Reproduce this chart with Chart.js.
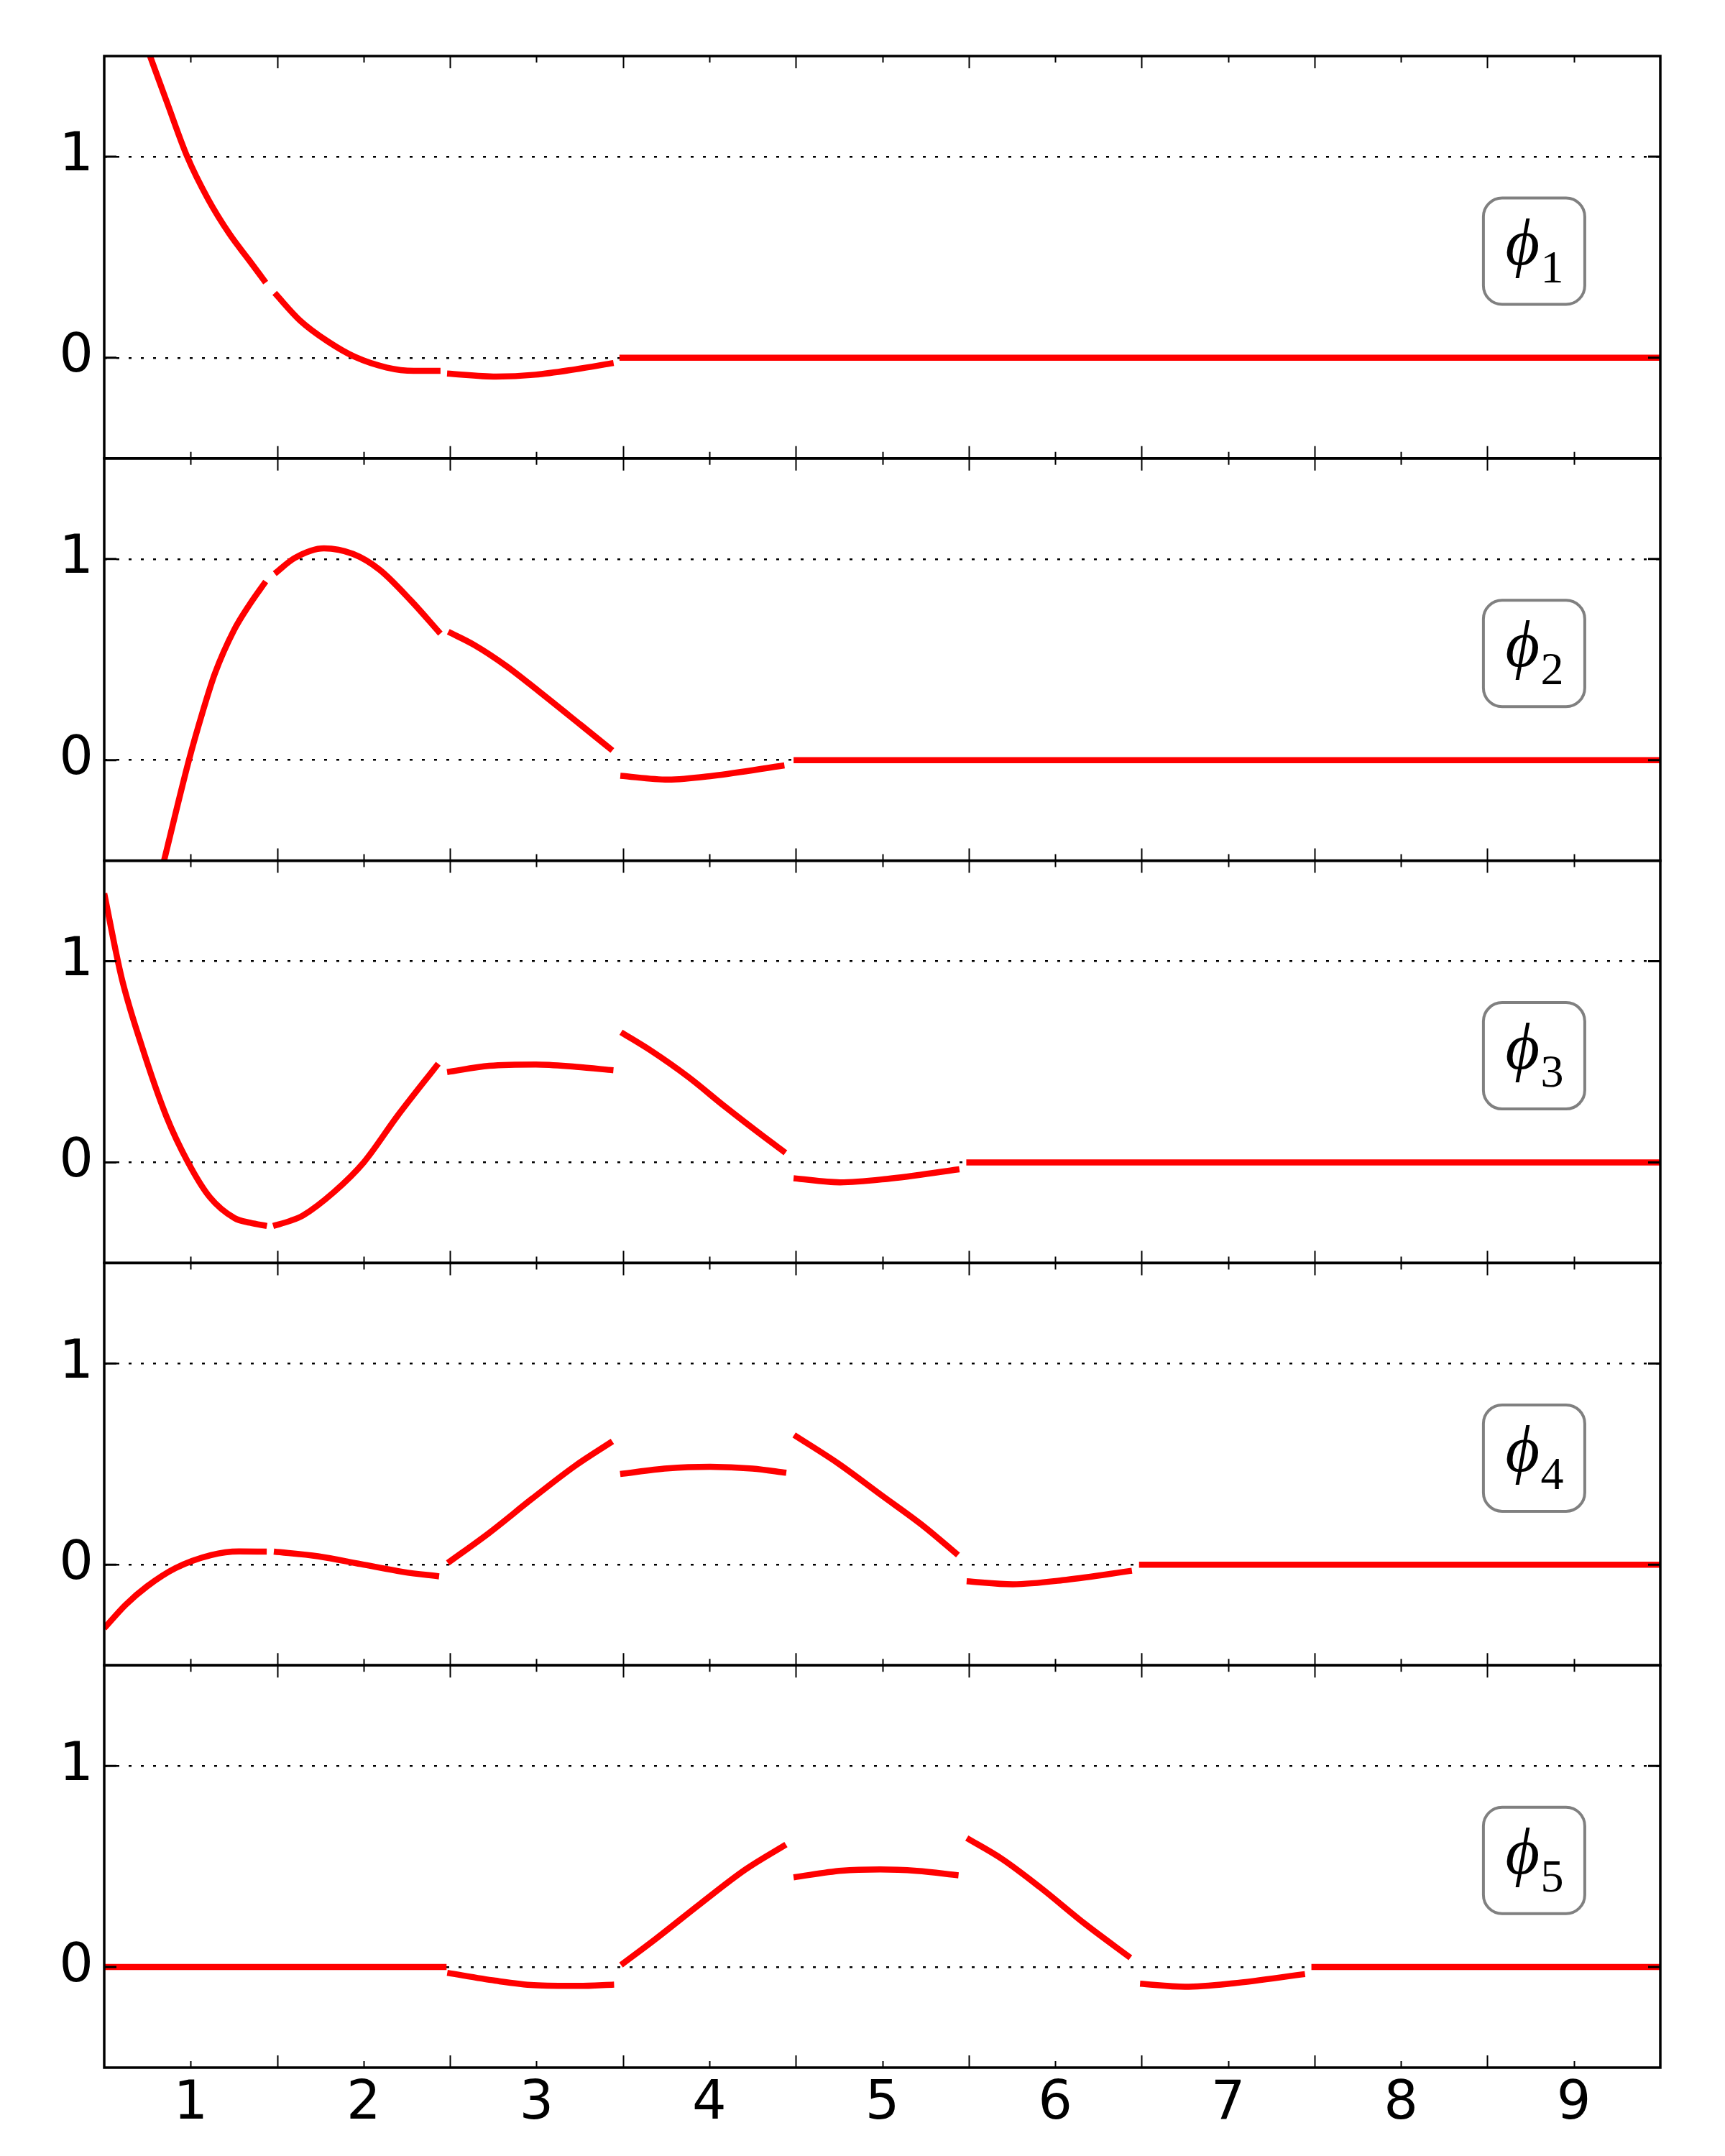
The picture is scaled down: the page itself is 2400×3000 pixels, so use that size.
<!DOCTYPE html>
<html>
<head>
<meta charset="UTF-8">
<title>phi basis functions</title>
<script src="https://cdn.jsdelivr.net/npm/chart.js"></script>
<style>
    body { margin: 0; background: #fff; }
    .chart-container { position: relative; width: 2400px; height: 3000px; }
</style>
</head>
<body>
<div class="chart-container"><canvas id="phiChart"></canvas></div>
<script>
// tick positions
var xTicks = [1, 2, 3, 4, 5, 6, 7, 8, 9];
var elementEdges = [1.5, 2.5, 3.5, 4.5, 5.5, 6.5, 7.5, 8.5];
var yTicks = [0, 1];
var phiNames = ["1", "2", "3", "4", "5"];

// curves, null = jump at an element edge
var phi1X = [0.765, 0.863, 0.98, 1.10, 1.225, 1.339, 1.434, 1.46, 1.486, 1.633, 1.792, 1.951, 2.132, 2.29, 2.445, 2.46, 2.483, 2.767, 2.993, 3.22, 3.446, 3.46, 3.48, 9.5];
var phi1Y = [1.5, 1.27, 1.0, 0.79, 0.615, 0.484, 0.374, null, 0.322, 0.185, 0.082, 0.004, -0.048, -0.065, -0.065, null, -0.078, -0.093, -0.084, -0.058, -0.026, null, 0, 0];

var phi2X = [0.846, 0.99, 1.066, 1.14, 1.25, 1.342, 1.434, 1.46, 1.486, 1.602, 1.771, 1.939, 2.092, 2.276, 2.444, 2.47, 2.49, 2.643, 2.827, 3.011, 3.256, 3.439, 3.46, 3.485, 3.761, 4.021, 4.434, 4.46, 4.487, 9.5];
var phi2Y = [-0.5, 0, 0.23, 0.43, 0.645, 0.775, 0.888, null, 0.927, 1.005, 1.053, 1.025, 0.947, 0.791, 0.629, null, 0.638, 0.571, 0.467, 0.344, 0.175, 0.048, null, -0.078, -0.097, -0.078, -0.026, null, 0, 0];

var phi3X = [0.5, 0.6, 0.716, 0.859, 0.985, 1.111, 1.254, 1.344, 1.441, 1.46, 1.477, 1.578, 1.649, 1.829, 2.001, 2.195, 2.432, 2.46, 2.483, 2.727, 2.996, 3.23, 3.445, 3.47, 3.489, 3.661, 3.876, 4.092, 4.307, 4.44, 4.46, 4.487, 4.756, 5.026, 5.446, 5.47, 5.486, 9.5];
var phi3Y = [1.337, 0.92, 0.582, 0.23, 0, -0.173, -0.277, -0.30, -0.316, null, -0.316, -0.29, -0.264, -0.147, 0, 0.23, 0.491, null, 0.449, 0.48, 0.487, 0.475, 0.458, null, 0.647, 0.556, 0.426, 0.276, 0.133, 0.048, null, -0.079, -0.099, -0.082, -0.034, null, 0, 0];

var phi4X = [0.5, 0.624, 0.747, 0.912, 1.118, 1.28, 1.44, 1.46, 1.481, 1.737, 1.984, 2.231, 2.437, 2.46, 2.487, 2.726, 2.973, 3.221, 3.439, 3.46, 3.484, 3.756, 4.004, 4.25, 4.445, 4.47, 4.49, 4.746, 4.993, 5.24, 5.438, 5.46, 5.488, 5.755, 6.065, 6.444, 6.46, 6.485, 9.5];
var phi4Y = [-0.316, -0.199, -0.108, -0.017, 0.048, 0.066, 0.065, null, 0.065, 0.042, 0.003, -0.036, -0.058, null, 0.009, 0.158, 0.327, 0.49, 0.613, null, 0.451, 0.479, 0.487, 0.478, 0.457, null, 0.645, 0.503, 0.347, 0.191, 0.048, null, -0.082, -0.097, -0.075, -0.03, null, 0, 0];

var phi5X = [0.5, 2.48, 2.482, 2.484, 2.762, 2.985, 3.244, 3.449, 3.47, 3.489, 3.69, 3.95, 4.209, 4.443, 4.46, 4.487, 4.766, 4.988, 5.2, 5.441, 5.46, 5.489, 5.693, 5.916, 6.176, 6.435, 6.46, 6.491, 6.751, 7.029, 7.445, 7.46, 7.482, 9.5];
var phi5Y = [0, 0, null, -0.029, -0.068, -0.09, -0.094, -0.087, null, 0.01, 0.14, 0.316, 0.485, 0.609, null, 0.446, 0.479, 0.485, 0.478, 0.456, null, 0.641, 0.537, 0.394, 0.212, 0.046, null, -0.083, -0.098, -0.081, -0.035, null, 0, 0];

var curvesX = [phi1X, phi2X, phi3X, phi4X, phi5X];
var curvesY = [phi1Y, phi2Y, phi3Y, phi4Y, phi5Y];
var panelIds = ["y1", "y2", "y3", "y4", "y5"];

var datasets = curvesX.map(function (xs, i) {
    return {
        data: xs.map(function (x, j) { return { x: x, y: curvesY[i][j] }; }),
        yAxisID: panelIds[i],
        borderColor: "#ff0000",
        borderWidth: 8.5,
        pointRadius: 0,
        cubicInterpolationMode: "monotone",
        spanGaps: false,
        fill: false
    };
});

var scales = {
    x: {
        type: "linear",
        min: 0.5,
        max: 9.5,
        afterBuildTicks: function (s) { s.ticks = xTicks.map(function (v) { return { value: v }; }); },
        afterFit: function (s) { s.height = 123; },
        grid: { display: false },
        border: { display: false },
        ticks: {
            color: "#000",
            padding: 6,
            autoSkip: false,
            maxRotation: 0,
            font: { family: "DejaVu Sans", size: 75, lineHeight: 1 }
        }
    }
};

panelIds.forEach(function (id, i) {
    scales[id] = {
        type: "linear",
        position: "left",
        stack: "phi",
        stackWeight: 1,
        weight: 5 - i,
        offset: false,
        min: -0.5,
        max: 1.5,
        z: 1,
        afterBuildTicks: function (s) { s.ticks = yTicks.map(function (v) { return { value: v }; }); },
        afterFit: function (s) { s.width = 145; },
        grid: { color: "#000", lineWidth: 2.5, drawTicks: false },
        border: { display: false, dash: [4, 13] },
        ticks: {
            color: "#000",
            padding: 15,
            font: { family: "DejaVu Sans", size: 75, lineHeight: 1 }
        }
    };
});

// frames, inward ticks and the boxed labels
var framePlugin = {
    id: "frames",
    afterDraw: function (chart) {
        var ctx = chart.ctx;
        var xs = chart.scales.x;
        var left = xs.left, right = xs.right;
        ctx.save();
        panelIds.forEach(function (id, i) {
            var ys = chart.scales[id];
            var top = ys.top, bot = ys.bottom;

            ctx.strokeStyle = "#000";
            ctx.lineWidth = 2;
            ctx.beginPath();
            elementEdges.forEach(function (v) {
                var px = Math.round(xs.getPixelForValue(v)) + 0.5;
                ctx.moveTo(px, top); ctx.lineTo(px, top + 17);
                ctx.moveTo(px, bot); ctx.lineTo(px, bot - 17);
            });
            xTicks.forEach(function (v) {
                var px = Math.round(xs.getPixelForValue(v)) + 0.5;
                ctx.moveTo(px, top); ctx.lineTo(px, top + 9);
                ctx.moveTo(px, bot); ctx.lineTo(px, bot - 9);
            });
            ctx.stroke();

            ctx.lineWidth = 3;
            ctx.beginPath();
            yTicks.forEach(function (v) {
                var py = ys.getPixelForValue(v);
                ctx.moveTo(left, py); ctx.lineTo(left + 17, py);
                ctx.moveTo(right, py); ctx.lineTo(right - 17, py);
            });
            ctx.stroke();

            ctx.lineWidth = 3.5;
            ctx.strokeRect(left, top, right - left, bot - top);

            // label box
            var cx = xs.getPixelForValue(8.77), cy = ys.getPixelForValue(0.53);
            var w = 141, h = 148, r = 26;
            var bx = cx - w / 2, by = cy - h / 2;
            ctx.beginPath();
            ctx.moveTo(bx + r, by);
            ctx.arcTo(bx + w, by, bx + w, by + h, r);
            ctx.arcTo(bx + w, by + h, bx, by + h, r);
            ctx.arcTo(bx, by + h, bx, by, r);
            ctx.arcTo(bx, by, bx + w, by, r);
            ctx.closePath();
            ctx.fillStyle = "#fff";
            ctx.fill();
            ctx.strokeStyle = "#808080";
            ctx.lineWidth = 4;
            ctx.stroke();

            ctx.fillStyle = "#000";
            ctx.textAlign = "left";
            ctx.textBaseline = "alphabetic";
            ctx.font = 'italic 92px "Liberation Serif", "DejaVu Serif"';
            ctx.fillText("\u03D5", cx - 40, cy + 18);
            ctx.font = '64px "Liberation Serif"';
            ctx.fillText(phiNames[i], cx + 9, cy + 43);
        });
        ctx.restore();
    }
};

var chart = new Chart(document.getElementById("phiChart").getContext("2d"), {
    type: "line",
    data: { datasets: datasets },
    options: {
        responsive: true,
        maintainAspectRatio: false,
        animation: false,
        layout: { padding: { top: 78, right: 90, left: 0, bottom: 0 } },
        plugins: { legend: { display: false }, tooltip: { enabled: false } },
        scales: scales
    },
    plugins: [framePlugin]
});
</script>
</body>
</html>
